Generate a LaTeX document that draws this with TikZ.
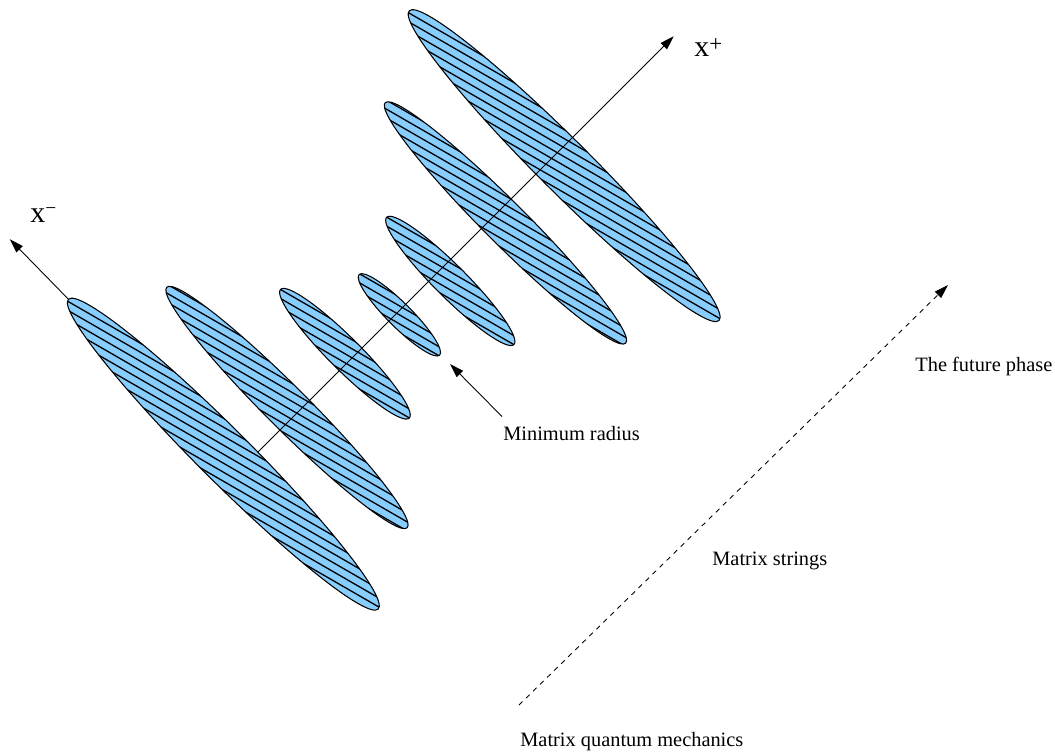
\documentclass[tikz,border=0pt]{standalone}
\usepackage{fontspec}
\setmainfont{Liberation Serif}
\usepackage{tikz}
\usetikzlibrary{arrows.meta}
\definecolor{ltblue}{RGB}{135,206,255}
\tikzstyle{arrow} = [line width=0.5pt, -{Triangle[length=8pt, width=5pt]}]
\tikzstyle{rim} = [line width=0.6pt, black]
\tikzstyle{hatch} = [line width=0.75pt, black]
\tikzstyle{tag} = [inner sep=0pt, font=\fontsize{11.6}{14}\selectfont]
\tikzstyle{axislabel} = [inner sep=0pt, font=\fontsize{17}{20}\selectfont]

\begin{document}
\begin{tikzpicture}[x=0.02cm, y=0.02cm]
  \useasboundingbox (0,0) rectangle (1055,751);
  % light-cone frame: x^+ to the upper right, x^- to the upper left
  \begin{scope}[shift={(241,282)}, rotate=45]
    \foreach \px/\py/\rx/\ry in {-2/23/26/219, 76/11/21/170, 155/8/16/91, 221/-3/12/57,
                                 281/-15/16/90, 361/-13/21/170, 443/-14/26/219} {
      \begin{scope}
        \clip (\px,\py) ellipse [x radius=\rx, y radius=\ry];
        \fill[ltblue] (\px,\py) ellipse [x radius=\rx, y radius=\ry];
        \foreach \k in {-16,...,16}
          \draw[hatch, shift={(\px,\py)}, rotate=-75] (-240,\k*7.8) -- (240,\k*7.8);
      \end{scope}
      \draw[rim] (\px,\py) ellipse [x radius=\rx, y radius=\ry];
    }
    \coordinate (xp0) at (24,0);
    \coordinate (xp1) at (612,0);
    \coordinate (xm0) at (-2,242);
    \coordinate (xm1) at (-1,326);
  \end{scope}
  \draw[arrow] (xp0) -- (xp1);
  \draw[arrow] (xm0) -- (xm1);

  % labels
  \node[axislabel, anchor=base west] (lminus) at (30,528)
    {x\raisebox{4.6pt}{\fontsize{11}{11}\selectfont −}};
  \node[axislabel, anchor=base west] (lplus) at (694,694)
    {x\raisebox{3.3pt}{\fontsize{13}{13}\selectfont +}};
  \node[tag, anchor=base west] (lmin) at (503,310) {Minimum radius};
  \node[tag, anchor=base west] (lfuture) at (915,379) {The future phase};
  \node[tag, anchor=base west] (lstrings) at (712,185) {Matrix strings};
  \node[tag, anchor=base west] (lmqm) at (520,5) {Matrix quantum mechanics};

  % pointers
  \coordinate (minhead) at (450,387);
  \draw[arrow] ([shift={(-1,10)}]lmin.north west) -- (minhead);
  \coordinate (dash0) at (519,46);
  \coordinate (dash1) at (948,466);
  \draw[arrow, dash pattern=on 2.8pt off 2.8pt] (dash0) -- (dash1);
\end{tikzpicture}
\end{document}
